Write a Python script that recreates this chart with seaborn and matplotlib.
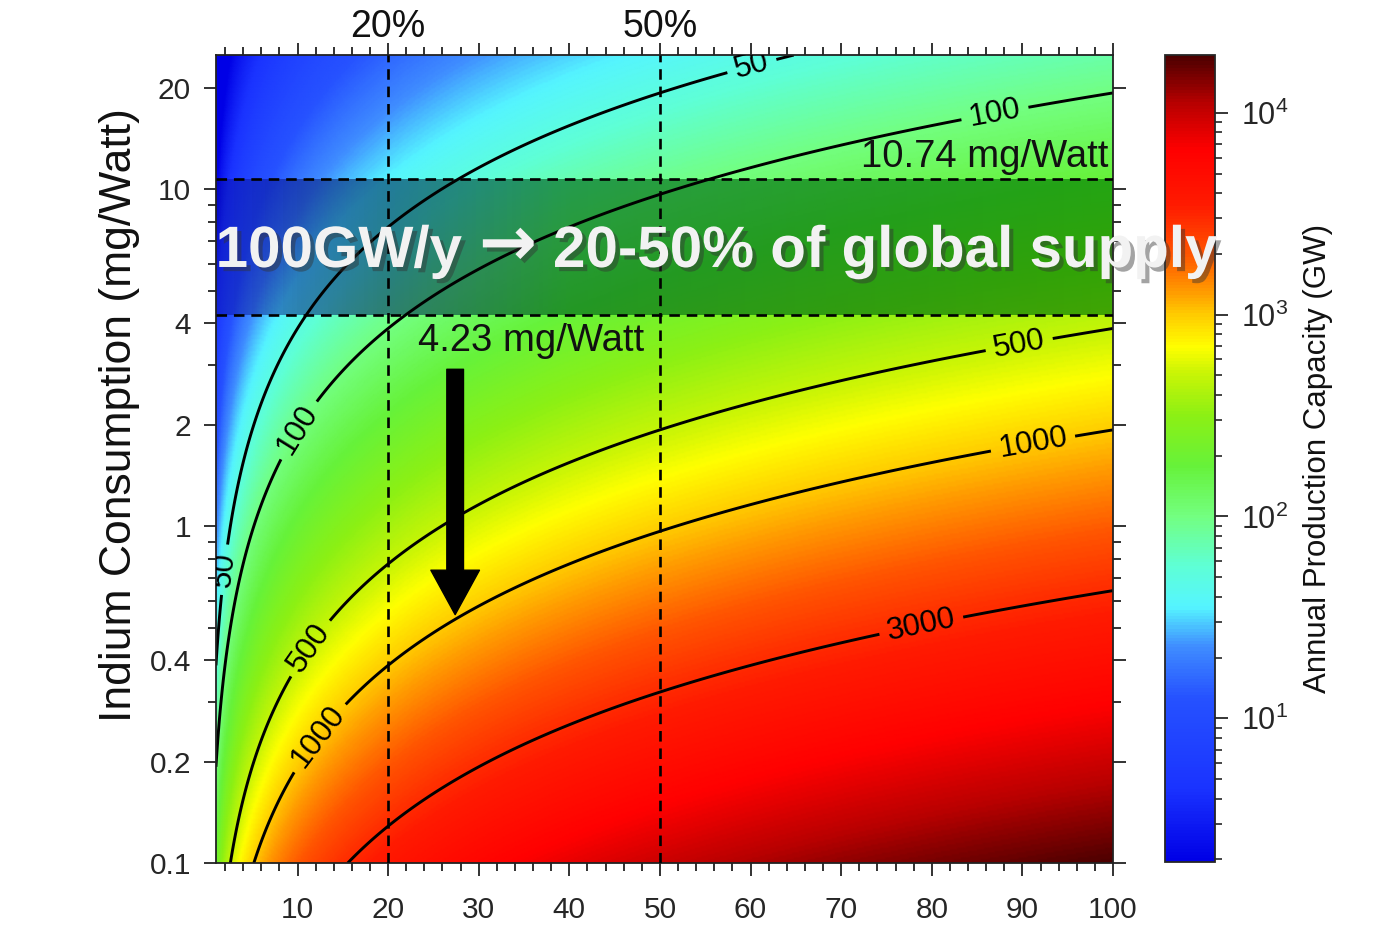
import numpy as np
import matplotlib
matplotlib.use('Agg')
import matplotlib.pyplot as plt
import matplotlib.patheffects as pe
import seaborn as sns
from matplotlib.colors import LogNorm, LinearSegmentedColormap
from matplotlib.ticker import MultipleLocator, LogLocator, NullFormatter, FixedLocator

# axes ranges
share_range = [1, 100]          # % of global indium supply
consumption_range = [0.1, 25]   # mg/Watt
indium_supply_t = 1930          # t/yr, fitted to where the contours sit

contour_levels = [50, 100, 500, 1000, 3000]
# where the contour labels sit (share %, mg/W)
label_spots = [(60.2, 22.9), (87.0, 16.6), (10.05, 1.93), (2.32, 0.74),
               (89.7, 3.4), (11.6, 0.43), (91.2, 1.74), (12.7, 0.232),
               (78.9, 0.498)]

share_marks = [20, 50]
share_mark_labels = ['20%', '50%']
consumption_marks = [4.23, 10.74]

ytick_vals = [0.1, 0.2, 0.4, 1, 2, 4, 10, 20]
ytick_labels = ['0.1', '0.2', '0.4', '1', '2', '4', '10', '20']
xtick_vals = [10, 20, 30, 40, 50, 60, 70, 80, 90, 100]

cbar_range = [1.95, 19300]
# colour bar colours, read at log10(GW) positions
cmap_logs = [0.29, 0.65, 1.1, 1.35, 1.55, 1.75, 2.0, 2.25, 2.5, 2.72, 2.84,
             3.0, 3.12, 3.3, 3.55, 3.82, 4.05, 4.285]
cmap_colors = ['#0000e6', '#1a33ff', '#2652ff', '#3f8cff', '#55f5ff', '#5effd6',
               '#73ff80', '#66f23a', '#8cf014', '#ccf505', '#ffff00', '#ffcc00',
               '#ff9900', '#ff5500', '#ff1a00', '#ff0000', '#b80000', '#4d0000']

# overlay tint of the highlighted band, read at share positions
band_share = [1, 10, 20, 40, 100]
band_rgba = [(0.0, 0.0, 0.55, 0.35), (0.0, 0.04, 0.45, 0.5), (0.0, 0.17, 0.35, 0.6),
             (0.0, 0.4, 0.1, 0.65), (0.0, 0.48, 0.0, 0.65)]

sns.set_style('ticks')
plt.rcParams['font.family'] = ['Liberation Sans', 'DejaVu Sans']
plt.rcParams['mathtext.default'] = 'regular'

lo, hi = cmap_logs[0], cmap_logs[-1]
stops = [min(max((v - lo) / (hi - lo), 0.0), 1.0) for v in cmap_logs]
stops[0], stops[-1] = 0.0, 1.0
cmap = LinearSegmentedColormap.from_list('supply', list(zip(stops, cmap_colors)))

bstops = [(v - band_share[0]) / (band_share[-1] - band_share[0]) for v in band_share]
bstops[0], bstops[-1] = 0.0, 1.0
band_cmap = LinearSegmentedColormap.from_list('band', list(zip(bstops, band_rgba)))

# capacity field: GW = supply(t) * share / 100 / consumption
share = np.linspace(share_range[0], share_range[1], 500)
cons = np.logspace(np.log10(consumption_range[0]), np.log10(consumption_range[1]), 500)
S, C = np.meshgrid(share, cons)
capacity = indium_supply_t * S / (100 * C)

fig = plt.figure(figsize=(13.79, 9.27), dpi=100)
ax = fig.add_axes([0.1566, 0.069, 0.6505, 0.8716])
cax = fig.add_axes([0.8448, 0.0705, 0.0363, 0.870])

# scales first so the contour labels get rotated in the final geometry
ax.set_yscale('log')
ax.set_xlim(share_range)
ax.set_ylim(consumption_range)

norm = LogNorm(vmin=cbar_range[0], vmax=cbar_range[1])
mesh = ax.pcolormesh(S, C, capacity, cmap=cmap, norm=norm, shading='gouraud', zorder=0)

# tinted band between the two consumption marks
band_x = np.linspace(share_range[0], share_range[1], 201)
ax.pcolormesh(band_x, consumption_marks, band_x[:-1][None, :], cmap=band_cmap,
              vmin=share_range[0], vmax=share_range[1], shading='flat', zorder=1)

cs = ax.contour(S, C, capacity, levels=contour_levels, colors='black',
                linewidths=2.1, zorder=2)
ax.clabel(cs, fmt='%d', fontsize=22.5, manual=label_spots, inline=True, inline_spacing=8)

for v in share_marks:
    ax.axvline(v, color='black', ls=(0, (4, 2.6)), lw=1.9, zorder=4)
for v in consumption_marks:
    ax.axhline(v, color='black', ls=(0, (4, 2.6)), lw=1.9, zorder=4)

for v, lab in zip(share_marks, share_mark_labels):
    ax.text(v, 1.013, lab, transform=ax.get_xaxis_transform(), ha='center',
            va='bottom', fontsize=27, color='#111111')

ax.text(99.5, consumption_marks[1] * 1.025, '10.74 mg/Watt', ha='right', va='bottom',
        fontsize=27.5, color='#111111', zorder=5)
ax.text(35.8, consumption_marks[0] * 0.95, '4.23 mg/Watt', ha='center', va='top',
        fontsize=27.5, color='#111111', zorder=5)

ax.annotate('', xy=(27.4, 0.546), xytext=(27.4, 2.92),
            arrowprops=dict(arrowstyle='simple,head_length=1.6,head_width=1.75,tail_width=0.6',
                            fc='black', ec='black', shrinkA=0, shrinkB=0,
                            mutation_scale=20), zorder=6)

ax.xaxis.set_major_locator(FixedLocator(xtick_vals))
ax.xaxis.set_minor_locator(MultipleLocator(2))
ax.yaxis.set_major_locator(FixedLocator(ytick_vals))
ax.set_yticklabels(ytick_labels)
ax.yaxis.set_minor_locator(LogLocator(subs=np.arange(2, 10)))
ax.yaxis.set_minor_formatter(NullFormatter())
ax.tick_params(which='both', direction='out', top=True, right=True,
               labeltop=False, labelright=False, width=1.3, color='#222222')
ax.tick_params(which='major', length=9, labelsize=21.5)
ax.tick_params(axis='x', which='major', pad=15)
ax.tick_params(axis='y', which='major', pad=9)
ax.tick_params(which='minor', length=5.5)
for sp in ax.spines.values():
    sp.set_linewidth(1.3)
    sp.set_color('#222222')
ax.set_ylabel('Indium Consumption (mg/Watt)', fontsize=32, color='#111111')
ax.yaxis.set_label_coords(-0.085, 0.554)

cbar = fig.colorbar(mesh, cax=cax)
cbar.outline.set_linewidth(1.3)
cbar.ax.yaxis.set_major_locator(LogLocator(base=10))
cbar.ax.yaxis.set_minor_locator(LogLocator(subs=np.arange(2, 10)))
cbar.ax.yaxis.set_minor_formatter(NullFormatter())
cbar.ax.tick_params(which='major', length=9, width=1.3, labelsize=22, pad=10)
cbar.ax.tick_params(which='minor', length=5, width=1.2)
cbar.set_label('Annual Production Capacity (GW)', fontsize=22.5, labelpad=10, color='#111111')

# headline, in three pieces so the arrow can come from a font with a bold arrow
shadow = [pe.withSimplePatchShadow(offset=(3, -3), shadow_rgbFace='#333333', alpha=0.45)]
head_y = 0.712
fig.text(462 / 1379, head_y, '100GW/y', ha='right', va='baseline', fontsize=42,
         fontweight='bold', color='#f2f2f2', zorder=10, path_effects=shadow)
fig.text(508 / 1379, head_y + 0.002, '\u2192', ha='center', va='baseline', fontsize=50,
         family='DejaVu Sans', fontweight='bold', color='#f2f2f2', zorder=10,
         path_effects=shadow)
fig.text(553 / 1379, head_y, '20-50% of global supply', ha='left', va='baseline',
         fontsize=42, fontweight='bold', color='#f2f2f2', zorder=10, path_effects=shadow)

fig.savefig('out.png', dpi=100)
